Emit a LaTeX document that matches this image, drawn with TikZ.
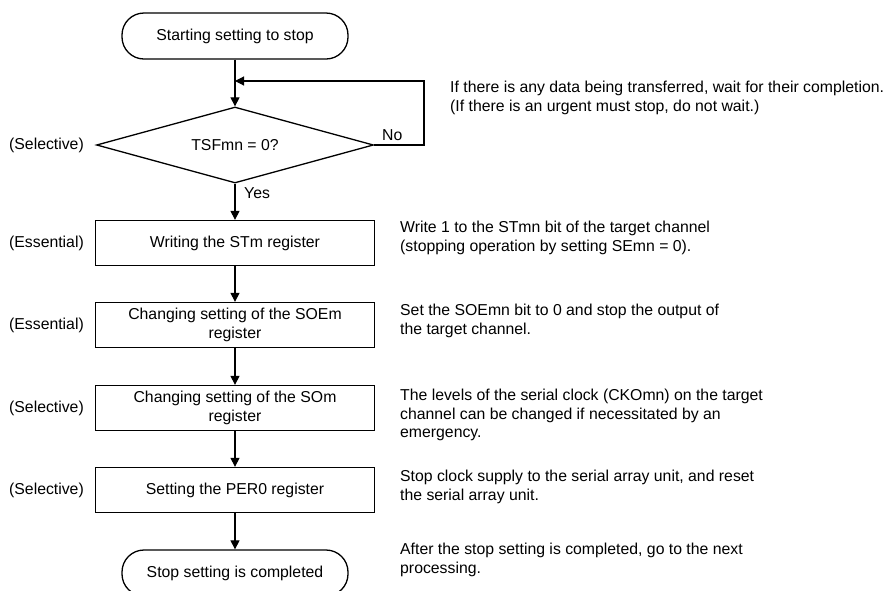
\documentclass[tikz,border=0pt]{standalone}
\usepackage{fontspec}
\setmainfont{Liberation Sans}
\usetikzlibrary{shapes.geometric,arrows.meta}
\begin{document}
\begin{tikzpicture}[x=1pt, y=-1pt,
  every node/.style={font=\fontsize{15.8}{18.5}\selectfont},
  term/.style={draw, line width=1.3pt, rounded corners=22pt, minimum width=226pt, minimum height=46pt},
  proc/.style={draw, line width=1.3pt, align=center, minimum width=279pt, minimum height=45pt},
  decide/.style={draw, line width=1.3pt, diamond, aspect=3.6, inner sep=0pt, minimum width=277pt, minimum height=76pt},
  note/.style={anchor=west, align=left, inner sep=0pt},
  tag/.style={anchor=east, inner sep=0pt},
  flow/.style={line width=1.1pt, -{Triangle[length=9pt, width=9pt]}}]
  \useasboundingbox (0,0) rectangle (889,590);
  \node[term] (start) at (235,36) {Starting setting to stop};
  \node[decide] (tsf) at (235,145) {TSFmn = 0?};
  \node[proc] (st) at (235,243) {Writing the STm register};
  \node[proc] (soe) at (235,325) {Changing setting of the SOEm\\register};
  \node[proc] (so) at (235,408) {Changing setting of the SOm\\register};
  \node[proc] (per) at (235,490) {Setting the PER0 register};
  \node[term] (done) at (235,573) {Stop setting is completed};
  \coordinate (noturn) at (424,145);
  \coordinate (join) at (235,81);
  \draw[flow] (start) -- (tsf);
  \draw[flow] (tsf.east) -- (noturn) |- (join);
  \draw[flow] (tsf) -- (st);
  \draw[flow] (st) -- (soe);
  \draw[flow] (soe) -- (so);
  \draw[flow] (so) -- (per);
  \draw[flow] (per) -- (done);
  \node[anchor=south west, inner sep=0pt] (no) at (382,141) {No};
  \node[anchor=west, inner sep=0pt] (yes) at (244,193) {Yes};
  \node[tag] (t1) at (84,145) {(Selective)};
  \node[tag] (t2) at (84,243) {(Essential)};
  \node[tag] (t3) at (84,325) {(Essential)};
  \node[tag] (t4) at (84,408) {(Selective)};
  \node[tag] (t5) at (84,490) {(Selective)};
  \node[note] (n1) at (450,98) {If there is any data being transferred, wait for their completion.\\(If there is an urgent must stop, do not wait.)};
  \node[note] (n2) at (400,238) {Write 1 to the STmn bit of the target channel\\(stopping operation by setting SEmn = 0).};
  \node[note] (n3) at (400,321) {Set the SOEmn bit to 0 and stop the output of\\the target channel.};
  \node[note] (n4) at (400,415) {The levels of the serial clock (CKOmn) on the target\\channel can be changed if necessitated by an\\emergency.};
  \node[note] (n5) at (400,487) {Stop clock supply to the serial array unit, and reset\\the serial array unit.};
  \node[note] (n6) at (400,560) {After the stop setting is completed, go to the next\\processing.};
\end{tikzpicture}
\end{document}
